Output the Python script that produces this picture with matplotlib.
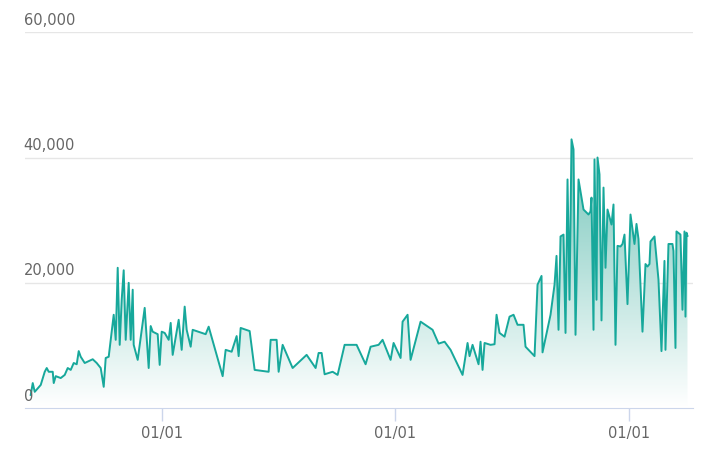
import numpy as np
import pandas as pd
import matplotlib
matplotlib.use("Agg")
import matplotlib.pyplot as plt
import matplotlib.dates as mdates
import matplotlib.transforms as mtransforms
from matplotlib.colors import LinearSegmentedColormap

# readings: position along the time axis (in chart units) and values
offsets = [0, 2, 4, 10, 14, 16, 18, 22, 23, 25, 30, 34, 37, 40, 43, 46, 48, 50, 54, 58,
           62, 66, 70, 73, 75, 78, 83, 85, 87, 89, 91, 93, 95, 98, 100, 102, 103, 107, 114, 118,
           120, 122, 127, 129, 131, 134, 138, 140, 142, 148, 151, 154, 156, 160, 162, 175, 178, 192, 195, 201,
           206, 208, 210, 219, 224, 238, 240, 246, 248, 252, 262, 276, 285, 288, 291, 294, 302, 307, 314, 326,
           335, 340, 348, 352, 360, 363, 370, 372, 377, 380, 390, 402, 408, 414, 420, 432, 437, 439, 442, 448,
           450, 452, 454, 460, 464, 466, 469, 474, 479, 483, 487, 493, 495, 504, 507, 511, 512, 520, 524, 526,
           528, 530, 533, 535, 537, 539, 541, 543, 545, 548, 553, 558, 560, 561, 563, 564, 566, 567, 569, 571,
           573, 575, 577, 581, 583, 585, 587, 590, 592, 594, 597, 600, 604, 606, 608, 612, 615, 617, 619, 620,
           624, 628, 631, 634, 635, 638, 642, 643, 645, 646, 650, 652, 654, 655, 656, 657]
values = [2.1, 4.0, 2.6, 3.7, 5.8, 6.4, 5.8, 5.8, 4.0, 5.1, 4.8, 5.3, 6.4, 6.1, 7.2, 7.0, 9.1, 8.2, 7.2, 7.5,
          7.8, 7.2, 6.4, 3.4, 8.0, 8.2, 14.9, 10.9, 22.4, 10.1, 17.3, 22.0, 10.9, 20.0, 10.9, 18.9, 10.1, 7.7, 16.0, 6.4,
          13.1, 12.2, 11.8, 6.9, 12.2, 12.0, 10.9, 13.6, 8.5, 14.1, 9.3, 16.2, 12.5, 9.8, 12.5, 11.8, 13.0, 5.1, 9.3, 9.0,
          11.5, 8.3, 12.8, 12.3, 6.1, 5.8, 10.9, 10.9, 5.8, 10.1, 6.4, 8.5, 6.4, 8.8, 8.8, 5.4, 5.8, 5.3, 10.1, 10.1,
          7.0, 9.8, 10.1, 10.9, 7.7, 10.4, 8.0, 13.8, 14.9, 7.7, 13.8, 12.5, 10.3, 10.6, 9.3, 5.3, 10.4, 8.3, 10.1, 7.0,
          10.6, 6.1, 10.4, 10.1, 10.2, 14.9, 12.0, 11.4, 14.6, 14.9, 13.3, 13.3, 9.8, 8.3, 19.7, 21.1, 8.9, 14.9, 19.7, 24.3,
          12.5, 27.4, 27.7, 12.0, 36.5, 17.3, 42.9, 41.3, 11.7, 36.5, 31.7, 30.9, 31.4, 33.6, 12.5, 39.7, 17.3, 40.0, 37.3, 14.0,
          35.2, 22.4, 31.7, 29.3, 32.5, 10.1, 25.9, 25.8, 26.2, 27.7, 16.6, 30.9, 26.2, 29.4, 27.0, 12.2, 23.0, 22.6, 23.0, 26.6,
          27.4, 20.5, 9.1, 23.5, 9.3, 26.2, 26.2, 25.1, 9.6, 28.2, 27.7, 15.7, 28.2, 14.6, 28.0, 27.5]

start = pd.Timestamp("2018-06-10")
dates = start + pd.to_timedelta(np.array(offsets) * 1.565, unit="D")
vals = np.array(values) * 1000

line_color = "#17a89b"
label_color = "#666666"
grid_color = "#e6e6e6"
axis_color = "#ccd6eb"

fig = plt.figure(figsize=(7.14, 4.74), dpi=100)
ax = fig.add_axes([0.035, 0.139, 0.935, 0.793])

x = mdates.date2num(dates)
ax.plot(x, vals, color=line_color, lw=1.4, zorder=3)

# gradient fill under the line
cmap = LinearSegmentedColormap.from_list("g", ["#ffffff", "#6cc2b6"])
grad = np.linspace(0, 1, 256).reshape(-1, 1)
im = ax.imshow(grad, extent=[x[0], x[-1], 0, vals.max()], origin="lower",
               aspect="auto", cmap=cmap, vmin=0, vmax=1.05, zorder=2)
poly = ax.fill_between(x, vals, 0, color="none")
clip = poly.get_paths()[0]
im.set_clip_path(clip, transform=ax.transData)

ax.set_xlim(mdates.date2num(pd.Timestamp("2018-06-01")), x[-1] + 8)
ax.set_ylim(0, 60000)

yticks = [0, 20000, 40000, 60000]
for t in yticks[1:]:
    ax.axhline(t, color=grid_color, lw=1, zorder=1)
trans = mtransforms.blended_transform_factory(ax.transAxes, ax.transData)
for t in yticks:
    ax.text(-0.002, t + 700, f"{t:,}", transform=trans, ha="left", va="bottom",
            fontsize=10.5, color=label_color, zorder=4)

xticks = [pd.Timestamp("2019-01-01"), pd.Timestamp("2020-01-01"), pd.Timestamp("2021-01-01")]
ax.set_xticks(mdates.date2num(xticks))
ax.set_xticklabels(["01/01"] * 3)
ax.tick_params(axis="x", colors=axis_color, length=9, width=1, labelcolor=label_color,
               labelsize=10.5, pad=4)
ax.set_yticks([])
for s in ["top", "right", "left"]:
    ax.spines[s].set_visible(False)
ax.spines["bottom"].set_color(axis_color)

fig.savefig("out.png", dpi=100)
